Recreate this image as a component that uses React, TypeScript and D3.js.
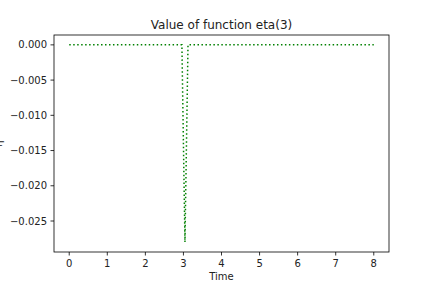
import React from "react";
import * as d3 from "d3";

const times = [0, 2.96, 3.04, 3.12, 8];
const etaValues = [0, 0, -0.028, 0, 0];
const xTicks = [0, 1, 2, 3, 4, 5, 6, 7, 8];
const yTicks = [0, -0.005, -0.01, -0.015, -0.02, -0.025];
const title = "Value of function eta(3)";
const xLabel = "Time";
const yLabel = "η";

export default function App() {
  const W = 432, H = 288;
  const left = 54, right = 389, top = 35, bottom = 252;
  const x = d3.scaleLinear().domain([-0.4, 8.4]).range([left, right]);
  const y = d3.scaleLinear().domain([0.0014, -0.0294]).range([top, bottom]);
  const line = d3.line<number>().x((_, i) => x(times[i])).y((d) => y(d));
  const fmt = (v: number) => {
    const s = Math.abs(v).toFixed(3);
    return (v < -1e-12 ? "\u2212" : "") + s;
  };
  const font = "DejaVu Sans";
  return (
    <svg width={W} height={H} style={{ position: "absolute", left: 0, top: 0 }} fontFamily={font}>
      <rect x={0} y={0} width={W} height={H} fill="#fff" />
      <path d={line(etaValues) || ""} fill="none" stroke="#008000" strokeWidth={1.5} strokeDasharray="1.5,2.475" />
      <rect x={left} y={top} width={right - left} height={bottom - top} fill="none" stroke="#000" strokeWidth={0.8} />
      {xTicks.map((t) => (
        <g key={"x" + t}>
          <line x1={x(t)} x2={x(t)} y1={bottom} y2={bottom + 3.5} stroke="#000" strokeWidth={0.8} />
          <text x={x(t)} y={bottom + 7} dy="0.76em" fontSize={10} textAnchor="middle" fill="#222">{t}</text>
        </g>
      ))}
      {yTicks.map((t) => (
        <g key={"y" + t}>
          <line x1={left - 3.5} x2={left} y1={y(t)} y2={y(t)} stroke="#000" strokeWidth={0.8} />
          <text x={left - 7} y={y(t)} dy="0.35em" fontSize={10} textAnchor="end" fill="#222">{fmt(t)}</text>
        </g>
      ))}
      <text x={(left + right) / 2} y={top - 6.5} fontSize={12} textAnchor="middle" fill="#222">{title}</text>
      <text x={(left + right) / 2} y={280} fontSize={10} textAnchor="middle" fill="#222">{xLabel}</text>
      <text transform={`translate(2,${(top + bottom) / 2}) rotate(-90)`} fontSize={10} textAnchor="middle" fill="#222">{yLabel}</text>
    </svg>
  );
}
